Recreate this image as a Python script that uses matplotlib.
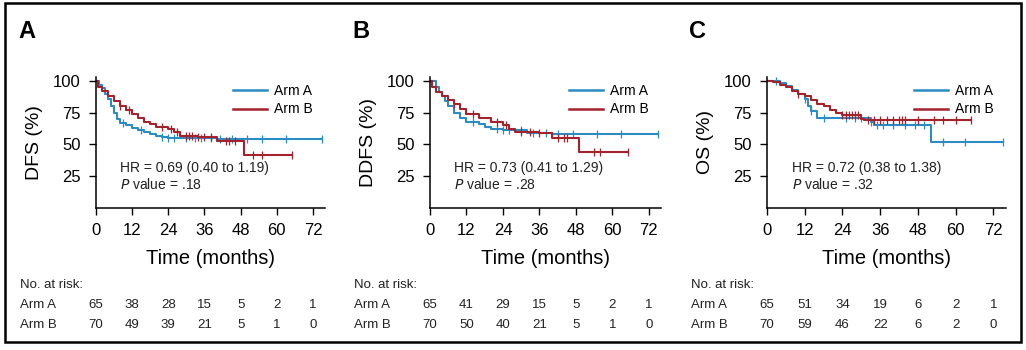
import numpy as np
import matplotlib
matplotlib.use("Agg")
from matplotlib import pyplot as plt
from matplotlib import transforms
from matplotlib.patches import Rectangle

plt.rcParams['font.family'] = ['Liberation Sans', 'DejaVu Sans']

W, H = 1026, 350
BLUE = '#2a8cc2'
RED = '#a3222b'

panels = ['A', 'B', 'C']
ylabels = ['DFS (%)', 'DDFS (%)', 'OS (%)']
hr_text = ['HR = 0.69 (0.40 to 1.19)', 'HR = 0.73 (0.41 to 1.29)', 'HR = 0.72 (0.38 to 1.38)']
p_text = ['.18', '.28', '.32']
xticks = [0, 12, 24, 36, 48, 60, 72]
yticks = [25, 50, 75, 100]

# at-risk numbers
risk_a = [[65, 38, 28, 15, 5, 2, 1],
          [65, 41, 29, 15, 5, 2, 1],
          [65, 51, 34, 19, 6, 2, 1]]
risk_b = [[70, 49, 39, 21, 5, 1, 0],
          [70, 50, 40, 21, 5, 1, 0],
          [70, 59, 46, 22, 6, 2, 0]]

# Kaplan-Meier steps (time in months, survival in %)
a_t = [[0, 1, 2, 3, 4, 5, 6, 7, 8, 10, 12, 14, 16, 18, 20, 22, 24, 40],
       [0, 2, 3, 4, 5, 6, 8, 10, 12, 16, 18, 20, 24, 32, 40],
       [0, 4, 6, 8, 10, 12, 13, 14, 16, 33, 34, 52]]
a_s = [[100, 97, 94, 90, 86, 80, 75, 70, 67, 65, 63, 61, 60, 58, 57, 56, 55, 54],
       [100, 95, 91, 88, 84, 80, 75, 71, 68, 66, 64, 62, 61, 59, 58],
       [100, 98, 96, 93, 90, 86, 80, 76, 71, 68, 65, 52]]
a_end = [75, 75, 75]
a_cens = [[9, 15, 22, 24, 26, 30, 33, 35, 38, 41, 45, 50, 55, 63, 75],
          [14, 22, 24, 26, 30, 34, 38, 42, 47, 55, 63, 75],
          [3, 12, 14, 18, 25, 28, 30, 33, 35, 37, 40, 44, 47, 50, 56, 63, 75]]

b_t = [[0, 0.5, 2, 4, 6, 8, 10, 12, 14, 16, 18, 20, 24, 26, 28, 34, 40, 49],
       [0, 0.5, 2, 4, 6, 8, 10, 12, 16, 20, 24, 26, 28, 36, 40, 49],
       [0, 2, 4, 6, 8, 10, 12, 14, 16, 18, 20, 22, 24, 30, 31]]
b_s = [[100, 95, 92, 88, 84, 80, 77, 74, 71, 68, 66, 64, 62, 60, 57, 56, 53, 42],
       [100, 95, 91, 88, 85, 82, 78, 74, 71, 68, 65, 62, 60, 59, 55, 44],
       [100, 99, 97, 95, 92, 90, 88, 85, 82, 80, 77, 75, 73, 70, 69]]
b_end = [65, 65, 65]
b_cens = [[8, 11, 22, 25, 27, 30, 31, 32, 34, 36, 38, 43, 44, 46, 52, 55, 65],
          [8, 14, 22, 25, 30, 33, 36, 42, 44, 45, 54, 56, 65],
          [10, 24, 25, 26, 27, 28, 29, 32, 34, 36, 38, 40, 42, 43, 44, 48, 53, 56, 60, 65]]

# axes placement in pixels: (left, right) of the y-axis / x-axis end
ax_x = [(96, 325), (430, 661), (767, 1006)]
ax_top, ax_bot = 77, 208


def km(ax, t, s, end, cens, color):
    tt = list(t) + [end]
    ss = list(s) + [s[-1]]
    ax.step(tt, ss, where='post', color=color, lw=1.5)
    cy = [ss[max(i for i in range(len(t)) if t[i] <= c)] for c in cens]
    ax.plot(cens, cy, ls='none', marker='|', ms=6, mew=0.9, color=color)


fig = plt.figure(figsize=(W / 100, H / 100), dpi=100)
fig.patches.append(Rectangle((5 / W, 1 - 342 / H), 1016 / W, 339 / H,
                             transform=fig.transFigure, fill=False,
                             lw=1.8, ec='black'))


def fx(px):
    return px / W


def fy(py):
    return 1 - py / H


for i in range(3):
    x0, x1 = ax_x[i]
    ax = fig.add_axes([fx(x0), fy(ax_bot), fx(x1 - x0), (ax_bot - ax_top) / H])
    km(ax, a_t[i], a_s[i], a_end[i], a_cens[i], BLUE)
    km(ax, b_t[i], b_s[i], b_end[i], b_cens[i], RED)
    ax.set_xlim(0, 76)
    ax.set_ylim(0, 103)
    ax.set_xticks(xticks)
    ax.set_yticks(yticks)
    ax.tick_params(labelsize=12, length=5, width=1, pad=6)
    for sp in ['top', 'right']:
        ax.spines[sp].set_visible(False)
    ax.spines['left'].set_linewidth(1.1)
    ax.spines['bottom'].set_linewidth(1.1)
    ax.set_xlabel('Time (months)', fontsize=14.5, labelpad=8)
    ax.set_ylabel(ylabels[i], fontsize=14, labelpad=7)

    # legend
    ax.plot([], [], color=BLUE, lw=1.8, label='Arm A')
    ax.plot([], [], color=RED, lw=1.8, label='Arm B')
    h, l = ax.get_legend_handles_labels()
    ax.legend(h[-2:], l[-2:], loc='upper right', bbox_to_anchor=(1.0, 1.04),
              frameon=False, fontsize=10, handlelength=2.4, handletextpad=0.5,
              labelspacing=0.3)

    ax.text(0.105, 0.305, hr_text[i], transform=ax.transAxes, fontsize=10,
            va='center', color='#222222')
    ax.text(0.105, 0.176, r'$\it{P}$' + ' value = ' + p_text[i],
            transform=ax.transAxes, fontsize=10, va='center', color='#222222')

    # panel letter
    fig.text(fx(x0 - 78), fy(31), panels[i], fontsize=17, fontweight='bold',
             ha='left', va='center')

    # number at risk table
    tr = transforms.blended_transform_factory(ax.transData, fig.transFigure)
    fig.text(fx(x0 - 76), fy(285), 'No. at risk:', fontsize=9.5, va='center', color='#222222')
    fig.text(fx(x0 - 76), fy(305), 'Arm A', fontsize=9.5, va='center', color='#222222')
    fig.text(fx(x0 - 76), fy(325), 'Arm B', fontsize=9.5, va='center', color='#222222')
    for k, xt in enumerate(xticks):
        ax.text(xt, fy(305), str(risk_a[i][k]), transform=tr, fontsize=9.5,
                ha='center', va='center', color='#222222')
        ax.text(xt, fy(325), str(risk_b[i][k]), transform=tr, fontsize=9.5,
                ha='center', va='center', color='#222222')

fig.savefig('out.png', dpi=100)
